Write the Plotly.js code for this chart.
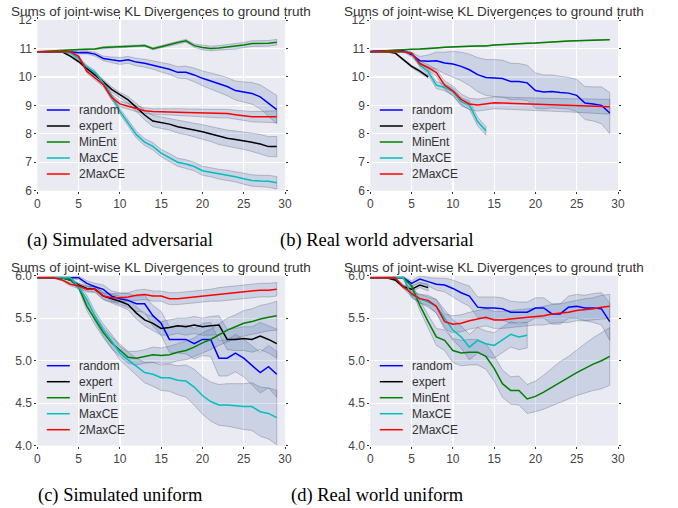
<!DOCTYPE html>
<html><head><meta charset="utf-8">
<script src="https://cdn.plot.ly/plotly-3.0.1.min.js"></script>
<style>html,body{margin:0;padding:0;background:#fff}#chart{width:678px;height:508px}</style>
</head><body><div id="chart"></div><script>
const steps = [0,1,2,3,4,5,6,7,8,9,10,11,12,13,14,15,16,17,18,19,20,21,22,23,24,25,26,27,28,29];
const seriesNames = ['random','expert','MinEnt','MaxCE','2MaxCE'];
const seriesColors = ['#0000ff','#000000','#008000','#00bfbf','#ff0000'];
const xTicks = [0,5,10,15,20,25,30];
const yTicksAdv = [6,7,8,9,10,11,12];
const yTickTextAdv = ['6','7','8','9','10','11','12'];
const yTicksUni = [4.0,4.5,5.0,5.5,6.0];
const yTickTextUni = ['4.0','4.5','5.0','5.5','6.0'];
const titleText = 'Sums of joint-wise KL Divergences to ground truth';
const captions = ['(a) Simulated adversarial','(b) Real world adversarial','(c) Simulated uniform','(d) Real world uniform'];

// (a) Simulated adversarial
const a_random = [10.88,10.88,10.88,10.88,10.88,10.85,10.86,10.80,10.65,10.60,10.56,10.60,10.52,10.48,10.42,10.34,10.27,10.16,10.16,10.07,9.95,9.86,9.75,9.66,9.52,9.47,9.42,9.30,9.07,8.85];
const a_expert = [10.88,10.88,10.88,10.88,10.73,10.54,10.30,10.07,9.83,9.56,9.36,9.19,8.93,8.66,8.45,8.39,8.34,8.25,8.20,8.13,8.07,7.99,7.90,7.84,7.80,7.76,7.70,7.64,7.55,7.55];
const a_minent = [10.88,10.90,10.92,10.94,10.95,10.96,10.97,10.98,11.03,11.05,11.06,11.07,11.09,11.10,10.99,11.06,11.14,11.21,11.27,11.10,11.03,11.00,11.02,11.05,11.07,11.12,11.17,11.17,11.18,11.22];
const a_maxce = [10.88,10.88,10.88,10.88,10.84,10.65,10.35,10.15,9.78,9.32,8.79,8.38,7.97,7.71,7.56,7.32,7.17,7.00,6.94,6.85,6.70,6.65,6.58,6.54,6.49,6.42,6.36,6.34,6.33,6.28];
const a_2maxce = [10.88,10.88,10.88,10.88,10.88,10.72,10.20,9.96,9.73,9.28,9.05,8.97,8.88,8.81,8.78,8.78,8.77,8.76,8.75,8.74,8.73,8.72,8.71,8.71,8.67,8.64,8.60,8.60,8.60,8.60];
const a_random_sd = [0.01,0.01,0.01,0.01,0.02,0.04,0.05,0.07,0.08,0.10,0.12,0.12,0.13,0.14,0.15,0.17,0.18,0.20,0.22,0.24,0.26,0.28,0.30,0.32,0.33,0.35,0.38,0.42,0.47,0.50];
const a_expert_sd = [0.01,0.01,0.01,0.01,0.03,0.05,0.06,0.07,0.08,0.09,0.10,0.12,0.14,0.17,0.20,0.20,0.21,0.22,0.23,0.24,0.25,0.26,0.28,0.29,0.30,0.31,0.32,0.34,0.35,0.36];
const a_minent_sd = [0.01,0.01,0.01,0.01,0.01,0.02,0.02,0.02,0.03,0.03,0.03,0.03,0.03,0.03,0.04,0.04,0.04,0.05,0.05,0.06,0.08,0.08,0.08,0.09,0.09,0.09,0.10,0.10,0.10,0.10];
const a_maxce_sd = [0.01,0.01,0.01,0.01,0.03,0.05,0.06,0.07,0.08,0.09,0.10,0.11,0.12,0.12,0.13,0.13,0.14,0.14,0.15,0.15,0.16,0.16,0.17,0.18,0.18,0.19,0.20,0.20,0.21,0.22];
const a_2maxce_sd = [0.01,0.01,0.01,0.01,0.02,0.04,0.06,0.07,0.08,0.09,0.10,0.10,0.10,0.10,0.10,0.11,0.11,0.12,0.12,0.13,0.13,0.14,0.15,0.15,0.16,0.17,0.18,0.19,0.20,0.21];

// (b) Real world adversarial
const b_random = [10.90,10.91,10.92,10.93,10.93,10.78,10.57,10.55,10.57,10.49,10.45,10.37,10.25,10.08,9.98,9.96,9.94,9.84,9.84,9.79,9.52,9.47,9.49,9.45,9.43,9.35,9.08,9.05,9.00,8.73];
const b_expert = [10.88,10.88,10.88,10.84,10.60,10.37,10.20,10.00];
const b_minent = [10.88,10.90,10.93,10.94,10.96,10.97,10.98,10.99,11.02,11.04,11.06,11.07,11.08,11.09,11.09,11.12,11.14,11.15,11.17,11.18,11.19,11.20,11.22,11.24,11.26,11.27,11.28,11.29,11.30,11.31];
const b_maxce = [10.88,10.88,10.88,10.88,10.88,10.84,10.42,10.18,9.71,9.63,9.48,9.13,9.01,8.43,8.11];
const b_2maxce = [10.88,10.88,10.88,10.88,10.88,10.83,10.47,10.33,10.15,9.71,9.51,9.21,9.05,9.01,9.06,9.09,9.08,9.07,9.06,9.05,9.04,9.03,9.02,9.01,9.00,8.99,8.98,8.97,8.96,8.95];
const b_random_sd = [0.01,0.01,0.01,0.02,0.03,0.08,0.15,0.22,0.30,0.38,0.45,0.50,0.55,0.60,0.63,0.65,0.65,0.64,0.63,0.62,0.62,0.60,0.58,0.57,0.56,0.56,0.58,0.60,0.65,0.72];
const b_expert_sd = [0.01,0.01,0.01,0.02,0.03,0.04,0.05,0.05];
const b_minent_sd = [0.01,0.01,0.01,0.01,0.01,0.01,0.01,0.01,0.01,0.01,0.01,0.01,0.01,0.01,0.01,0.01,0.01,0.01,0.01,0.01,0.01,0.01,0.01,0.01,0.01,0.01,0.01,0.01,0.01,0.01];
const b_maxce_sd = [0.01,0.01,0.01,0.01,0.01,0.03,0.08,0.10,0.12,0.12,0.13,0.14,0.15,0.15,0.15];
const b_2maxce_sd = [0.01,0.01,0.01,0.01,0.01,0.03,0.08,0.10,0.12,0.15,0.17,0.19,0.20,0.21,0.21,0.21,0.21,0.21,0.21,0.22,0.22,0.22,0.22,0.23,0.23,0.24,0.24,0.25,0.25,0.26];

// (c) Simulated uniform
const c_random = [5.976,5.976,5.976,5.976,5.976,5.976,5.91,5.87,5.84,5.76,5.73,5.71,5.67,5.67,5.53,5.44,5.25,5.25,5.25,5.20,5.25,5.25,5.03,5.03,5.09,5.03,4.95,4.86,4.93,4.84];
const c_expert = [5.976,5.976,5.976,5.976,5.95,5.89,5.85,5.84,5.76,5.73,5.70,5.66,5.56,5.48,5.44,5.38,5.39,5.41,5.40,5.42,5.40,5.41,5.42,5.25,5.25,5.26,5.25,5.29,5.25,5.20];
const c_minent = [5.976,5.976,5.976,5.976,5.95,5.87,5.64,5.48,5.33,5.21,5.13,5.04,5.03,5.05,5.07,5.06,5.07,5.10,5.12,5.16,5.21,5.25,5.31,5.36,5.40,5.44,5.46,5.49,5.51,5.53];
const c_maxce = [5.976,5.976,5.976,5.976,5.976,5.87,5.72,5.52,5.36,5.23,5.09,5.01,4.93,4.86,4.84,4.80,4.80,4.77,4.76,4.69,4.59,4.52,4.48,4.48,4.47,4.46,4.46,4.40,4.38,4.33];
const c_2maxce = [5.976,5.976,5.976,5.95,5.90,5.88,5.84,5.84,5.76,5.74,5.74,5.75,5.77,5.78,5.76,5.76,5.73,5.73,5.74,5.75,5.76,5.77,5.78,5.79,5.80,5.81,5.82,5.83,5.83,5.84];
const c_random_sd = [0.005,0.005,0.005,0.005,0.01,0.02,0.03,0.04,0.05,0.06,0.07,0.08,0.09,0.10,0.12,0.14,0.15,0.16,0.17,0.18,0.19,0.20,0.21,0.21,0.22,0.22,0.23,0.24,0.25,0.27];
const c_expert_sd = [0.005,0.005,0.005,0.005,0.01,0.02,0.03,0.03,0.04,0.05,0.06,0.06,0.07,0.07,0.08,0.08,0.09,0.09,0.10,0.10,0.10,0.11,0.11,0.12,0.13,0.14,0.15,0.16,0.16,0.17];
const c_minent_sd = [0.005,0.005,0.005,0.005,0.01,0.03,0.05,0.06,0.06,0.07,0.07,0.07,0.08,0.08,0.09,0.09,0.10,0.10,0.11,0.11,0.12,0.12,0.13,0.14,0.14,0.15,0.15,0.16,0.16,0.17];
const c_maxce_sd = [0.005,0.005,0.005,0.005,0.01,0.03,0.05,0.06,0.07,0.08,0.08,0.09,0.10,0.12,0.14,0.15,0.16,0.17,0.19,0.21,0.22,0.23,0.24,0.25,0.26,0.27,0.28,0.29,0.30,0.32];
const c_2maxce_sd = [0.005,0.005,0.005,0.01,0.02,0.03,0.03,0.04,0.04,0.05,0.05,0.05,0.06,0.06,0.06,0.06,0.07,0.07,0.07,0.07,0.07,0.07,0.08,0.08,0.08,0.08,0.08,0.08,0.08,0.08];

// (d) Real world uniform
const d_random = [5.976,5.976,5.976,5.976,5.976,5.91,5.96,5.93,5.90,5.89,5.85,5.80,5.76,5.63,5.62,5.62,5.61,5.57,5.57,5.57,5.62,5.62,5.55,5.55,5.63,5.64,5.62,5.62,5.61,5.46];
const d_expert = [5.976,5.976,5.976,5.95,5.87,5.84,5.89,5.86];
const d_minent = [5.976,5.976,5.976,5.976,5.976,5.88,5.65,5.46,5.28,5.24,5.12,5.09,5.10,5.10,5.05,4.91,4.73,4.65,4.65,4.55,4.58,4.63,4.69,4.75,4.80,4.86,4.91,4.96,5.00,5.05];
const d_maxce = [5.976,5.976,5.976,5.976,5.976,5.77,5.73,5.69,5.64,5.50,5.36,5.28,5.16,5.24,5.20,5.18,5.24,5.31,5.28,5.30];
const d_2maxce = [5.976,5.976,5.976,5.976,5.87,5.79,5.73,5.71,5.64,5.46,5.43,5.44,5.47,5.49,5.51,5.48,5.48,5.49,5.50,5.51,5.52,5.53,5.55,5.56,5.57,5.59,5.60,5.61,5.63,5.64];
const d_random_sd = [0.005,0.005,0.005,0.005,0.01,0.03,0.04,0.05,0.07,0.08,0.10,0.11,0.12,0.12,0.13,0.13,0.13,0.13,0.12,0.12,0.12,0.12,0.12,0.12,0.13,0.14,0.15,0.17,0.19,0.22];
const d_expert_sd = [0.005,0.005,0.005,0.01,0.02,0.03,0.03,0.04];
const d_minent_sd = [0.005,0.005,0.005,0.005,0.01,0.03,0.06,0.08,0.10,0.12,0.14,0.15,0.15,0.15,0.15,0.15,0.16,0.16,0.17,0.17,0.18,0.20,0.22,0.24,0.25,0.27,0.29,0.31,0.33,0.34];
const d_maxce_sd = [0.005,0.005,0.005,0.005,0.01,0.03,0.05,0.06,0.08,0.10,0.12,0.13,0.15,0.15,0.15,0.15,0.15,0.15,0.15,0.15];
const d_2maxce_sd = [0.005,0.005,0.005,0.005,0.02,0.04,0.05,0.06,0.08,0.09,0.10,0.10,0.10,0.10,0.10,0.10,0.10,0.10,0.10,0.10,0.10,0.11,0.11,0.11,0.12,0.12,0.13,0.13,0.14,0.14];

const W = 678, H = 508;
const px = v => v / W;
const py = v => 1 - v / H;

const panels = [
  {ax:'', left:37.3, right:285, top:20, bottom:190.7, yr:[6,12], tv:yTicksAdv, tt:yTickTextAdv,
   means:[a_random,a_expert,a_minent,a_maxce,a_2maxce], sds:[a_random_sd,a_expert_sd,a_minent_sd,a_maxce_sd,a_2maxce_sd], cap:captions[0], capX:120, capY:240},
  {ax:'2', left:370.3, right:618, top:20, bottom:190.7, yr:[6,12], tv:yTicksAdv, tt:yTickTextAdv,
   means:[b_random,b_expert,b_minent,b_maxce,b_2maxce], sds:[b_random_sd,b_expert_sd,b_minent_sd,b_maxce_sd,b_2maxce_sd], cap:captions[1], capX:377, capY:240},
  {ax:'3', left:37.3, right:285, top:275.7, bottom:445.7, yr:[4,6], tv:yTicksUni, tt:yTickTextUni,
   means:[c_random,c_expert,c_minent,c_maxce,c_2maxce], sds:[c_random_sd,c_expert_sd,c_minent_sd,c_maxce_sd,c_2maxce_sd], cap:captions[2], capX:120, capY:495},
  {ax:'4', left:370.3, right:618, top:275.7, bottom:445.7, yr:[4,6], tv:yTicksUni, tt:yTickTextUni,
   means:[d_random,d_expert,d_minent,d_maxce,d_2maxce], sds:[d_random_sd,d_expert_sd,d_minent_sd,d_maxce_sd,d_2maxce_sd], cap:captions[3], capX:377, capY:495}
];

const traces = [];
const layout = {
  width: W, height: H, margin:{l:0,r:0,t:0,b:0}, paper_bgcolor:'#ffffff', plot_bgcolor:'#EAEAF2',
  showlegend:false, font:{family:'Liberation Sans, Arial, sans-serif', size:12, color:'#333333'},
  annotations:[], shapes:[]
};

panels.forEach(p => {
  const xa = 'x' + p.ax, ya = 'y' + p.ax;
  // bands
  p.means.forEach((m, i) => {
    const sd = p.sds[i];
    const xs = steps.slice(0, m.length);
    const up = m.map((v, k) => v + sd[k]);
    const lo = m.map((v, k) => v - sd[k]);
    traces.push({
      type:'scatter', mode:'lines', xaxis:xa, yaxis:ya, hoverinfo:'skip',
      x: xs.concat(xs.slice().reverse()), y: up.concat(lo.slice().reverse()),
      fill:'toself', fillcolor:'rgba(76,114,176,0.2)',
      line:{color:'rgba(70,70,90,0.28)', width:1}
    });
  });
  // mean lines
  p.means.forEach((m, i) => {
    traces.push({
      type:'scatter', mode:'lines', xaxis:xa, yaxis:ya, name:seriesNames[i],
      x: steps.slice(0, m.length), y: m,
      line:{color:seriesColors[i], width:1.5}
    });
  });
  const axCommon = {showline:false, zeroline:false, gridcolor:'#ffffff', gridwidth:1.3,
    ticks:'outside', ticklen:2, tickwidth:1, tickcolor:'#333', mirror:'ticks',
    tickfont:{size:12, color:'#444444', family:'Liberation Sans, Arial, sans-serif'}};
  layout['xaxis' + p.ax] = Object.assign({}, axCommon, {
    domain:[px(p.left), px(p.right)], anchor:ya, range:[0,30], tickvals:xTicks, ticktext:xTicks.map(String)
  });
  layout['yaxis' + p.ax] = Object.assign({}, axCommon, {
    domain:[py(p.bottom), py(p.top)], anchor:xa, range:p.yr, tickvals:p.tv, ticktext:p.tt
  });
  // title
  layout.annotations.push({xref:'paper', yref:'paper', x:px((p.left + p.right) / 2), y:py(p.top - 8.5),
    xanchor:'center', yanchor:'middle', showarrow:false, text:titleText,
    font:{size:13.5, color:'#333333', family:'Liberation Sans, Arial, sans-serif'}});
  // caption
  layout.annotations.push({xref:'paper', yref:'paper', x:px(p.capX), y:py(p.capY),
    xanchor:'center', yanchor:'middle', showarrow:false, text:p.cap,
    font:{size:18.5, color:'#000000', family:'Liberation Serif, Times New Roman, serif'}});
  // custom legend
  seriesNames.forEach((nm, i) => {
    const yy = p.top + 90 + 16 * i;
    layout.shapes.push({type:'line', xref:'paper', yref:'paper',
      x0:px(p.left + 9.5), x1:px(p.left + 32.5), y0:py(yy), y1:py(yy),
      line:{color:seriesColors[i], width:1.5}});
    layout.annotations.push({xref:'paper', yref:'paper', x:px(p.left + 40), y:py(yy),
      xanchor:'left', yanchor:'middle', showarrow:false, text:nm,
      font:{size:12, color:'#333333', family:'Liberation Sans, Arial, sans-serif'}});
  });
});

Plotly.newPlot('chart', traces, layout, {displayModeBar:false, staticPlot:true});
</script></body></html>
